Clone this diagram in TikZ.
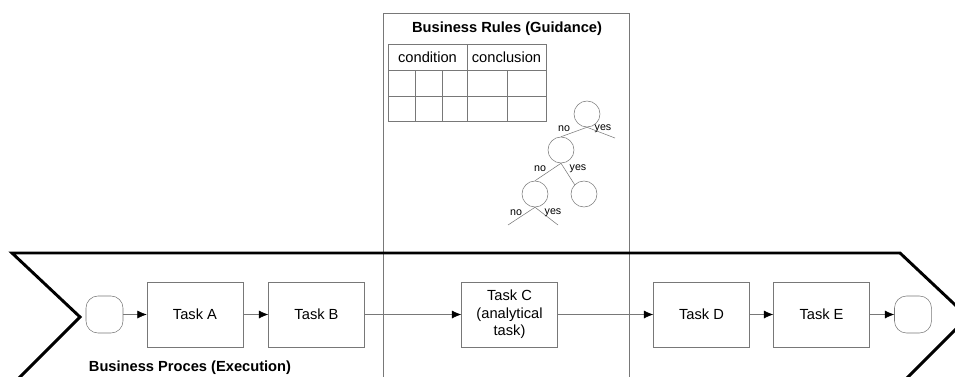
\documentclass[tikz,border=0pt]{standalone}
\usepackage{fontspec}
\setmainfont{Liberation Sans}
\usetikzlibrary{arrows.meta}
\definecolor{edgegray}{RGB}{120,120,120}

\tikzset{
    task/.style={rectangle, draw=edgegray, minimum width=72pt, minimum height=48.75pt, align=center, inner sep=1pt, font=\fontsize{11}{13}\selectfont},
    event/.style={rectangle, rounded corners=9pt, draw=edgegray, minimum width=27.75pt, minimum height=27.75pt},
    flow/.style={draw=edgegray, -{Latex[black, length=7pt, width=6pt]}},
    decision/.style={circle, draw=edgegray, minimum size=19.5pt, inner sep=0pt},
    branch/.style={draw=edgegray},
    branchlabel/.style={inner sep=0pt, font=\fontsize{8}{9}\selectfont},
    heading/.style={inner sep=0pt, font=\fontsize{11}{13}\selectfont\bfseries},
}

\begin{document}
\begin{tikzpicture}[x=0.75pt, y=-0.75pt]
        \useasboundingbox (0,0) rectangle (955,376);
        \clip (0,0) rectangle (955,376);

        % business rules panel
        \draw[edgegray] (383,13) rectangle (629,400);
        \node[heading] (rulestitle) at (507,29) {Business Rules (Guidance)};

        % decision table
        \draw[edgegray] (388,44) rectangle (546,121);
        \draw[edgegray] (388,70) -- (546,70);
        \draw[edgegray] (388,96) -- (546,96);
        \draw[edgegray] (467,44) -- (467,121);
        \foreach \x in {415,442,507}
            \draw[edgegray] (\x,70) -- (\x,121);
        \node[font=\fontsize{11}{13}\selectfont] (cond) at (427.5,57) {condition};
        \node[font=\fontsize{11}{13}\selectfont] (concl) at (506.5,57) {conclusion};

        % decision tree
        \node[decision] (d1) at (587,114) {};
        \node[decision] (d2) at (561,150) {};
        \node[decision] (d3) at (535,194) {};
        \node[decision] (d4) at (584,194) {};
        \coordinate (leafyes1) at (615,138);
        \coordinate (leafno3) at (508,225);
        \coordinate (leafyes3) at (558,225);

        \draw[branch] (d1.south) -- (d2.north);
        \draw[branch] (d1.south) -- (leafyes1);
        \draw[branch] (d2.south) -- (d3.north);
        \draw[branch] (d2.south) -- (d4.north west);
        \draw[branch] (d3.south) -- (leafno3);
        \draw[branch] (d3.south) -- (leafyes3);

        \node[branchlabel] (no1) at (564,129) {no};
        \node[branchlabel] (yes1) at (603,129) {yes};
        \node[branchlabel] (no2) at (540,169) {no};
        \node[branchlabel] (yes2) at (578,169) {yes};
        \node[branchlabel] (no3) at (516,213) {no};
        \node[branchlabel] (yes3) at (553,213) {yes};

        % process chevron
        \draw[black, line width=2.2pt, line join=miter]
            (12,253) -- (900,253) -- (968,317) -- (904,381) -- (16,381) -- (80,317) -- cycle;

        % process flow
        \node[event] (start) at (104.5,314.5) {};
        \node[task] (A) at (195,314.5) {Task A};
        \node[task] (B) at (316.5,314.5) {Task B};
        \node[task] (C) at (509.5,314.5) {Task C\\(analytical\\task)};
        \node[task] (D) at (701.5,314.5) {Task D};
        \node[task] (E) at (821.5,314.5) {Task E};
        \node[event] (end) at (913,314.5) {};

        \draw[flow] (start) -- (A);
        \draw[flow] (A) -- (B);
        \draw[flow] (B) -- (C);
        \draw[flow] (C) -- (D);
        \draw[flow] (D) -- (E);
        \draw[flow] (E) -- (end);

        \node[heading] (proctitle) at (190,368) {Business Proces (Execution)};
    \end{tikzpicture}
\end{document}
